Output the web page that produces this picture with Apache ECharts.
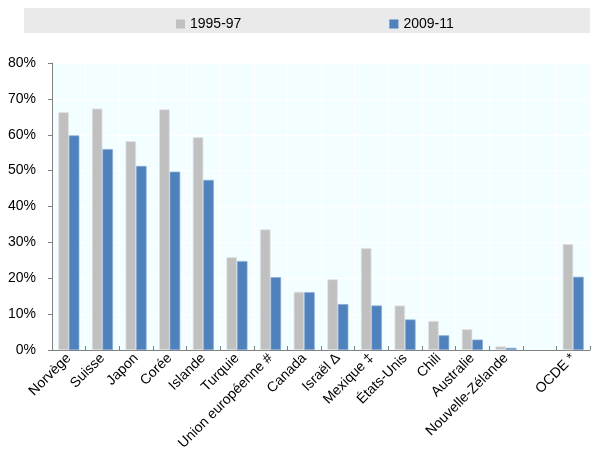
<!DOCTYPE html>
<html><head><meta charset="utf-8">
<script src="https://cdn.jsdelivr.net/npm/echarts@6/dist/echarts.min.js"></script>
<style>html,body{margin:0;padding:0;background:#fff}#c{width:596px;height:464px}</style>
</head><body><div id="c"></div>
<script>
const categories = ['Norvège','Suisse','Japon','Corée','Islande','Turquie','Union européenne #','Canada','Israël ∆','Mexique ‡','États-Unis','Chili','Australie','Nouvelle-Zélande','','OCDE *'];
const series1995 = [66.3, 67.3, 58.2, 67.1, 59.3, 25.9, 33.6, 16.2, 19.7, 28.4, 12.4, 8.1, 5.8, 1.0, null, 29.5];
const series2009 = [59.8, 56.0, 51.3, 49.7, 47.4, 24.8, 20.3, 16.1, 12.8, 12.4, 8.5, 4.1, 2.9, 0.6, null, 20.4];
const legendNames = ['1995-97', '2009-11'];
const yTicks = [0, 10, 20, 30, 40, 50, 60, 70, 80];

const chart = echarts.init(document.getElementById('c'), null, {renderer: 'canvas'});
const font = 'Liberation Sans, Arial, sans-serif';
chart.setOption({
  animation: false,
  textStyle: {fontFamily: font},
  graphic: [{type: 'rect', shape: {x: 24, y: 8, width: 566, height: 25}, style: {fill: '#EAEAEA'}, z: -1}],
  legend: {
    left: 171, top: 12, itemGap: 148, itemWidth: 9, itemHeight: 9, itemStyle: {borderWidth: 0},
    textStyle: {fontSize: 14, color: '#000', fontFamily: font},
    icon: 'rect', data: legendNames
  },
  grid: {left: 52, right: 6, top: 63, bottom: 114, show: true, backgroundColor: '#F2FEFF', borderWidth: 0},
  xAxis: {
    type: 'category', data: categories,
    axisLine: {lineStyle: {color: '#808080', width: 1}},
    axisTick: {show: true, inside: true, length: 4, lineStyle: {color: '#808080'}},
    splitLine: {show: true, lineStyle: {color: '#FFFFFF', width: 1}},
    axisLabel: {rotate: 45, fontSize: 14, color: '#000', interval: 0, margin: 6, fontFamily: font}
  },
  yAxis: {
    type: 'value', min: yTicks[0], max: yTicks[yTicks.length - 1], interval: 10,
    axisLine: {show: true, lineStyle: {color: '#808080'}},
    axisTick: {show: true, length: 4, lineStyle: {color: '#808080'}},
    splitLine: {show: true, lineStyle: {color: '#FFFFFF'}},
    axisLabel: {formatter: '{value}%', fontSize: 14, color: '#000', margin: 16, fontFamily: font}
  },
  series: [
    {name: legendNames[0], type: 'bar', data: series1995, barWidth: 10.5, barGap: '0%',
     itemStyle: {color: '#C0C0C0', borderColor: '#E4E4E4', borderWidth: 0.7}},
    {name: legendNames[1], type: 'bar', data: series2009, barWidth: 10.5, barGap: '0%',
     itemStyle: {color: '#4F81BD', borderColor: '#8AAAD4', borderWidth: 0.7}}
  ]
});
</script></body></html>
